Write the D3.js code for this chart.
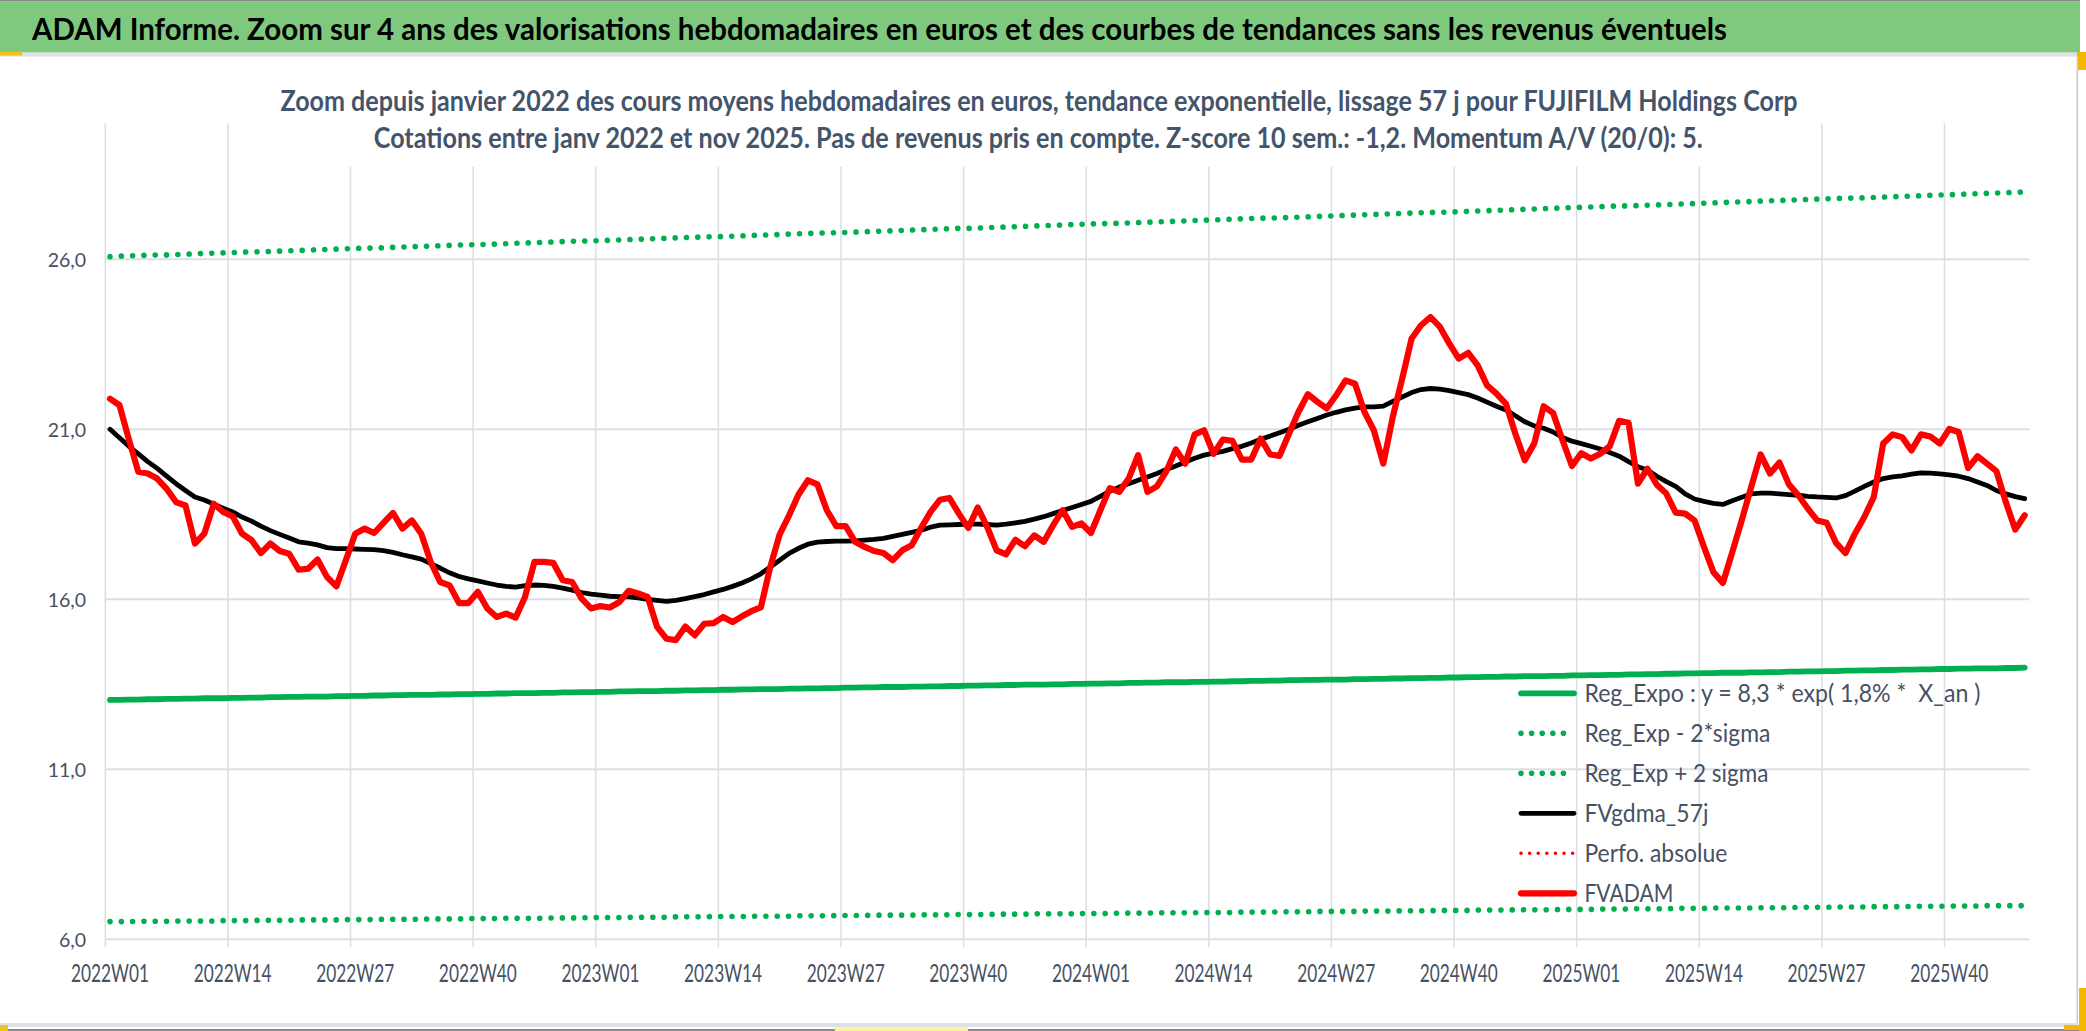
<!DOCTYPE html>
<html>
<head>
<meta charset="utf-8">
<script src="https://cdn.jsdelivr.net/npm/d3@7"></script>
<style>
html,body{margin:0;padding:0;background:#ffffff;}
svg{display:block;}
text{font-family:Lato,"Open Sans","Noto Sans",sans-serif;}
</style>
</head>
<body>
<svg id="chart" width="2086" height="1031"></svg>
<script>
// ---------- DATA ----------
const years = [2022, 2023, 2024, 2025];
const weeksPerYear = 52;
const lastWeekIndex = 204; // 2022W01 .. 2025W48
const categories = [];
years.forEach(yr => { for (let w = 1; w <= weeksPerYear; w++) categories.push(yr + "W" + String(w).padStart(2, "0")); });
categories.splice(lastWeekIndex);

const tickLabels = ["2022W01","2022W14","2022W27","2022W40","2023W01","2023W14","2023W27","2023W40",
                    "2024W01","2024W14","2024W27","2024W40","2025W01","2025W14","2025W27","2025W40"];
const yTickValues = [6, 11, 16, 21, 26];
const yTickLabels = ["6,0", "11,0", "16,0", "21,0", "26,0"];

const fvadam = [
21.90,21.71,20.70,19.75,19.70,19.55,19.25,18.86,18.76,17.64,
17.93,18.81,18.57,18.44,17.93,17.74,17.36,17.64,17.42,17.34,
16.87,16.90,17.17,16.66,16.38,17.15,17.93,18.08,17.95,18.25,
18.54,18.08,18.32,17.93,17.10,16.51,16.41,15.89,15.89,16.22,
15.73,15.48,15.58,15.46,16.07,17.10,17.10,17.07,16.56,16.51,
16.02,15.73,15.80,15.76,15.92,16.25,16.17,16.07,15.19,14.84,
14.80,15.20,14.94,15.28,15.30,15.48,15.33,15.50,15.65,15.76,
16.95,17.91,18.47,19.08,19.50,19.38,18.62,18.15,18.15,17.69,
17.54,17.42,17.36,17.15,17.44,17.59,18.10,18.57,18.93,18.98,
18.52,18.10,18.70,18.13,17.44,17.32,17.75,17.56,17.88,17.69,
18.18,18.62,18.13,18.23,17.95,18.62,19.27,19.16,19.55,20.24,
19.16,19.32,19.77,20.41,19.99,20.85,20.97,20.28,20.70,20.66,
20.11,20.11,20.73,20.26,20.22,20.87,21.51,22.03,21.81,21.61,
22.00,22.44,22.34,21.51,20.97,19.99,21.36,22.49,23.67,24.06,
24.30,24.01,23.52,23.08,23.25,22.88,22.29,22.05,21.75,20.87,
20.09,20.58,21.68,21.48,20.68,19.92,20.30,20.14,20.28,20.50,
21.25,21.19,19.40,19.84,19.37,19.11,18.55,18.52,18.32,17.54,
16.80,16.48,17.39,18.32,19.30,20.26,19.70,20.02,19.38,19.06,
18.67,18.32,18.25,17.66,17.36,17.93,18.42,19.01,20.58,20.85,
20.77,20.38,20.85,20.79,20.58,21.01,20.92,19.86,20.21,19.99,
19.77,18.86,18.05,18.47];

const fvgdma57 = [
21.00,20.75,20.50,20.28,20.05,19.85,19.62,19.40,19.20,19.01,
18.92,18.80,18.68,18.57,18.42,18.30,18.15,18.02,17.91,17.80,
17.69,17.65,17.60,17.52,17.49,17.49,17.48,17.47,17.46,17.43,
17.38,17.31,17.25,17.18,17.05,16.92,16.78,16.67,16.60,16.54,
16.48,16.42,16.38,16.36,16.40,16.42,16.41,16.38,16.33,16.27,
16.20,16.15,16.12,16.09,16.08,16.07,16.04,16.00,15.97,15.94,
15.97,16.02,16.08,16.14,16.22,16.29,16.38,16.48,16.60,16.75,
16.95,17.15,17.35,17.50,17.62,17.68,17.70,17.71,17.71,17.72,
17.74,17.76,17.79,17.85,17.91,17.97,18.03,18.12,18.18,18.19,
18.20,18.21,18.21,18.20,18.18,18.21,18.25,18.29,18.36,18.43,
18.52,18.61,18.70,18.79,18.88,19.03,19.18,19.30,19.40,19.50,
19.60,19.70,19.82,19.92,20.04,20.15,20.24,20.30,20.35,20.43,
20.50,20.60,20.71,20.80,20.90,21.00,21.12,21.22,21.32,21.42,
21.50,21.57,21.62,21.66,21.66,21.68,21.82,21.95,22.08,22.17,
22.20,22.18,22.14,22.08,22.02,21.92,21.80,21.68,21.57,21.40,
21.22,21.10,21.03,20.92,20.76,20.65,20.58,20.50,20.42,20.32,
20.21,20.05,19.90,19.80,19.62,19.46,19.32,19.10,18.95,18.88,
18.82,18.79,18.90,19.00,19.10,19.12,19.12,19.10,19.08,19.06,
19.03,19.01,19.00,18.98,19.05,19.18,19.32,19.45,19.55,19.60,
19.63,19.68,19.72,19.71,19.69,19.66,19.62,19.55,19.45,19.35,
19.20,19.10,19.02,18.96];

const regExpo = [
13.04,13.04,13.05,13.05,13.06,13.06,13.07,13.07,13.08,13.08,
13.09,13.09,13.09,13.10,13.10,13.11,13.11,13.12,13.12,13.13,
13.13,13.14,13.14,13.14,13.15,13.15,13.16,13.16,13.17,13.17,
13.18,13.18,13.19,13.19,13.19,13.20,13.20,13.21,13.21,13.22,
13.22,13.23,13.23,13.24,13.24,13.24,13.25,13.25,13.26,13.26,
13.27,13.27,13.28,13.28,13.29,13.29,13.30,13.30,13.30,13.31,
13.31,13.32,13.32,13.33,13.33,13.34,13.34,13.35,13.35,13.36,
13.36,13.36,13.37,13.37,13.38,13.38,13.39,13.39,13.40,13.40,
13.41,13.41,13.42,13.42,13.42,13.43,13.43,13.44,13.44,13.45,
13.45,13.46,13.46,13.47,13.47,13.48,13.48,13.49,13.49,13.49,
13.50,13.50,13.51,13.51,13.52,13.52,13.53,13.53,13.54,13.54,
13.55,13.55,13.56,13.56,13.56,13.57,13.57,13.58,13.58,13.59,
13.59,13.60,13.60,13.61,13.61,13.62,13.62,13.63,13.63,13.64,
13.64,13.64,13.65,13.65,13.66,13.66,13.67,13.67,13.68,13.68,
13.69,13.69,13.70,13.70,13.71,13.71,13.72,13.72,13.73,13.73,
13.74,13.74,13.74,13.75,13.75,13.76,13.76,13.77,13.77,13.78,
13.78,13.79,13.79,13.80,13.80,13.81,13.81,13.82,13.82,13.83,
13.83,13.84,13.84,13.84,13.85,13.85,13.86,13.86,13.87,13.87,
13.88,13.88,13.89,13.89,13.90,13.90,13.91,13.91,13.92,13.92,
13.93,13.93,13.94,13.94,13.95,13.95,13.96,13.96,13.97,13.97,
13.97,13.98,13.98,13.99];

const regExpMinus2s = [
6.52,6.52,6.52,6.53,6.53,6.53,6.53,6.54,6.54,6.54,
6.54,6.54,6.55,6.55,6.55,6.55,6.56,6.56,6.56,6.56,
6.57,6.57,6.57,6.57,6.57,6.58,6.58,6.58,6.58,6.59,
6.59,6.59,6.59,6.59,6.60,6.60,6.60,6.60,6.61,6.61,
6.61,6.61,6.62,6.62,6.62,6.62,6.62,6.63,6.63,6.63,
6.63,6.64,6.64,6.64,6.64,6.65,6.65,6.65,6.65,6.65,
6.66,6.66,6.66,6.66,6.67,6.67,6.67,6.67,6.68,6.68,
6.68,6.68,6.68,6.69,6.69,6.69,6.69,6.70,6.70,6.70,
6.70,6.71,6.71,6.71,6.71,6.71,6.72,6.72,6.72,6.72,
6.73,6.73,6.73,6.73,6.74,6.74,6.74,6.74,6.75,6.75,
6.75,6.75,6.75,6.76,6.76,6.76,6.76,6.77,6.77,6.77,
6.77,6.78,6.78,6.78,6.78,6.78,6.79,6.79,6.79,6.79,
6.80,6.80,6.80,6.80,6.81,6.81,6.81,6.81,6.82,6.82,
6.82,6.82,6.82,6.83,6.83,6.83,6.83,6.84,6.84,6.84,
6.84,6.85,6.85,6.85,6.85,6.86,6.86,6.86,6.86,6.87,
6.87,6.87,6.87,6.87,6.88,6.88,6.88,6.88,6.89,6.89,
6.89,6.89,6.90,6.90,6.90,6.90,6.91,6.91,6.91,6.91,
6.92,6.92,6.92,6.92,6.92,6.93,6.93,6.93,6.93,6.94,
6.94,6.94,6.94,6.95,6.95,6.95,6.95,6.96,6.96,6.96,
6.96,6.97,6.97,6.97,6.97,6.98,6.98,6.98,6.98,6.99,
6.99,6.99,6.99,6.99];

const regExpPlus2s = [
26.08,26.09,26.10,26.11,26.12,26.13,26.13,26.14,26.15,26.16,
26.17,26.18,26.19,26.20,26.21,26.22,26.22,26.23,26.24,26.25,
26.26,26.27,26.28,26.29,26.30,26.31,26.32,26.33,26.33,26.34,
26.35,26.36,26.37,26.38,26.39,26.40,26.41,26.42,26.43,26.43,
26.44,26.45,26.46,26.47,26.48,26.49,26.50,26.51,26.52,26.53,
26.54,26.54,26.55,26.56,26.57,26.58,26.59,26.60,26.61,26.62,
26.63,26.64,26.65,26.66,26.66,26.67,26.68,26.69,26.70,26.71,
26.72,26.73,26.74,26.75,26.76,26.77,26.78,26.78,26.79,26.80,
26.81,26.82,26.83,26.84,26.85,26.86,26.87,26.88,26.89,26.90,
26.91,26.91,26.92,26.93,26.94,26.95,26.96,26.97,26.98,26.99,
27.00,27.01,27.02,27.03,27.04,27.05,27.05,27.06,27.07,27.08,
27.09,27.10,27.11,27.12,27.13,27.14,27.15,27.16,27.17,27.18,
27.19,27.20,27.21,27.21,27.22,27.23,27.24,27.25,27.26,27.27,
27.28,27.29,27.30,27.31,27.32,27.33,27.34,27.35,27.36,27.37,
27.38,27.38,27.39,27.40,27.41,27.42,27.43,27.44,27.45,27.46,
27.47,27.48,27.49,27.50,27.51,27.52,27.53,27.54,27.55,27.56,
27.57,27.57,27.58,27.59,27.60,27.61,27.62,27.63,27.64,27.65,
27.66,27.67,27.68,27.69,27.70,27.71,27.72,27.73,27.74,27.75,
27.76,27.77,27.78,27.79,27.80,27.80,27.81,27.82,27.83,27.84,
27.85,27.86,27.87,27.88,27.89,27.90,27.91,27.92,27.93,27.94,
27.95,27.96,27.97,27.98];

const perfoAbsolue = []; // series present in the legend, no visible points

const bannerTitle = "ADAM Informe. Zoom sur 4 ans des valorisations hebdomadaires en euros et des courbes de tendances sans les revenus éventuels";
const subtitle1 = "Zoom depuis janvier 2022 des cours moyens hebdomadaires en euros, tendance exponentielle, lissage 57 j pour FUJIFILM Holdings Corp";
const subtitle2 = "Cotations entre janv 2022 et nov 2025. Pas de revenus pris en compte. Z-score 10 sem.: -1,2. Momentum A/V (20/0): 5.";
const legendNames = ["Reg_Expo : y = 8,3 * exp( 1,8% *  X_an )", "Reg_Exp - 2*sigma", "Reg_Exp + 2 sigma", "FVgdma_57j", "Perfo. absolue", "FVADAM"];

// ---------- LAYOUT ----------
const W = 2086, H = 1031;
const plot = {left: 105.3, right: 2029.4, top: 123.3, bottom: 939.3};
const svg = d3.select("#chart");

const x = d3.scaleBand().domain(categories).range([plot.left, plot.right]).padding(0);
const y = d3.scaleLinear().domain([6, 30]).range([plot.bottom, plot.top]);
const bw = x.bandwidth();
const cx = i => x(categories[i]) + bw / 2;

function fit(sel, w) {
  sel.attr("textLength", w).attr("lengthAdjust", "spacingAndGlyphs");
}

// background
svg.append("rect").attr("x", 0).attr("y", 0).attr("width", W).attr("height", H).attr("fill", "#ffffff");

// banner
svg.append("rect").attr("x", 0).attr("y", 0).attr("width", 2080).attr("height", 1.6).attr("fill", "#8a8a8a");
svg.append("rect").attr("x", 0).attr("y", 1.6).attr("width", 2080).attr("height", 51).attr("fill", "#7fc97f");
svg.append("rect").attr("x", 0).attr("y", 52.6).attr("width", 2078).attr("height", 4).attr("fill", "#dde1e7");
svg.append("rect").attr("x", 0).attr("y", 52).attr("width", 22).attr("height", 3.5).attr("fill", "#f2c21b");
svg.append("rect").attr("x", 2077).attr("y", 52).attr("width", 9).attr("height", 18).attr("fill", "#f5b800");
svg.append("text").attr("x", 32).attr("y", 39.5)
  .attr("font-size", 30).attr("font-weight", 700).attr("fill", "#000000")
  .text(bannerTitle).call(fit, 1695);

// chart frame bits
svg.append("rect").attr("x", 2076.5).attr("y", 56).attr("width", 1.6).attr("height", 970).attr("fill", "#c8ccd2");
svg.append("rect").attr("x", 0).attr("y", 1023).attr("width", 2078).attr("height", 4).attr("fill", "#dde1e7");
svg.append("rect").attr("x", 0).attr("y", 1029).attr("width", W).attr("height", 2).attr("fill", "#8a8a8a");
svg.append("rect").attr("x", 0).attr("y", 1025).attr("width", 8).attr("height", 6).attr("fill", "#f2c21b");
svg.append("rect").attr("x", 835).attr("y", 1027).attr("width", 133).attr("height", 4).attr("fill", "#fff3a0");
svg.append("rect").attr("x", 2079).attr("y", 988).attr("width", 7).attr("height", 43).attr("fill", "#f5b800");
svg.append("rect").attr("x", 2064).attr("y", 1025).attr("width", 22).attr("height", 5).attr("fill", "#f5b800");

// gridlines
const grid = svg.append("g");
grid.selectAll("line.h").data(yTickValues).join("line")
  .attr("x1", plot.left).attr("x2", plot.right)
  .attr("y1", d => y(d)).attr("y2", d => y(d))
  .attr("stroke", "#dcdfe4").attr("stroke-width", 2);
grid.selectAll("line.v").data(tickLabels).join("line")
  .attr("x1", d => x(d)).attr("x2", d => x(d))
  .attr("y1", plot.top).attr("y2", plot.bottom + 8)
  .attr("stroke", "#dcdfe4").attr("stroke-width", 1.6);

// title box (white fill hides gridlines under the titles)
svg.append("rect").attr("x", 272).attr("y", 60).attr("width", 1534).attr("height", 106.7).attr("fill", "#ffffff");
svg.append("text").attr("x", 1039).attr("y", 111).attr("text-anchor", "middle")
  .attr("font-size", 29).attr("font-weight", 700).attr("fill", "#44546a")
  .text(subtitle1).call(fit, 1517);
svg.append("text").attr("x", 1038.3).attr("y", 147.5).attr("text-anchor", "middle")
  .attr("font-size", 29).attr("font-weight", 700).attr("fill", "#44546a")
  .text(subtitle2).call(fit, 1329);

// axes
const xAxis = d3.axisBottom(x).tickValues(tickLabels).tickSize(0).tickPadding(0);
const gx = svg.append("g").attr("transform", `translate(0,${plot.bottom})`).call(xAxis);
gx.select(".domain").remove();
gx.selectAll("text").attr("y", 42.4).attr("dy", null)
  .attr("font-size", 24.5).attr("fill", "#475163").style("font-family", "Lato, 'Open Sans', sans-serif")
  .call(fit, 78);

const yAxis = d3.axisLeft(y).tickValues(yTickValues).tickFormat((d, i) => yTickLabels[i]).tickSize(0).tickPadding(19.3);
const gy = svg.append("g").attr("transform", `translate(${plot.left},0)`).call(yAxis);
gy.select(".domain").remove();
gy.selectAll("text").attr("font-size", 19.5).attr("fill", "#475163").attr("dy", "0.36em")
  .style("font-family", "Lato, 'Open Sans', sans-serif");

// series
const line = d3.line().x((d, i) => cx(i)).y(d => y(d));
const series = [
  {data: regExpo, color: "#00b050", width: 5.8, dash: null},
  {data: regExpMinus2s, color: "#00b050", width: 5.6, dash: "0.01 11.3"},
  {data: regExpPlus2s, color: "#00b050", width: 5.6, dash: "0.01 11.3"},
  {data: fvgdma57, color: "#000000", width: 4.8, dash: null},
  {data: perfoAbsolue, color: "#ff0000", width: 3.6, dash: "0.01 8.3"},
  {data: fvadam, color: "#ff0000", width: 6.2, dash: null}
];
const gs = svg.append("g");
series.forEach(s => {
  if (!s.data.length) return;
  gs.append("path").datum(s.data).attr("d", line)
    .attr("fill", "none").attr("stroke", s.color).attr("stroke-width", s.width)
    .attr("stroke-linejoin", "round").attr("stroke-linecap", "round")
    .attr("stroke-dasharray", s.dash);
});

// legend
const legY = d3.scalePoint().domain(legendNames).range([693.3, 893.3]);
const legendWidths = [396, 186, 184, 124, 143, 89];
const lg = svg.append("g");
legendNames.forEach((name, i) => {
  const s = series[i];
  const yy = legY(name);
  lg.append("line").attr("x1", 1521).attr("x2", 1574).attr("y1", yy).attr("y2", yy)
    .attr("stroke", s.color).attr("stroke-width", s.width)
    .attr("stroke-linecap", "round")
    .attr("stroke-dasharray", s.dash ? (i === 4 ? "0.01 8.6" : "0.01 10.6") : null);
  lg.append("text").attr("x", 1584.4).attr("y", yy + 9)
    .attr("font-size", 24.5).attr("fill", "#475163").style("white-space", "pre")
    .text(name).call(fit, legendWidths[i]);
});
</script>
</body>
</html>
